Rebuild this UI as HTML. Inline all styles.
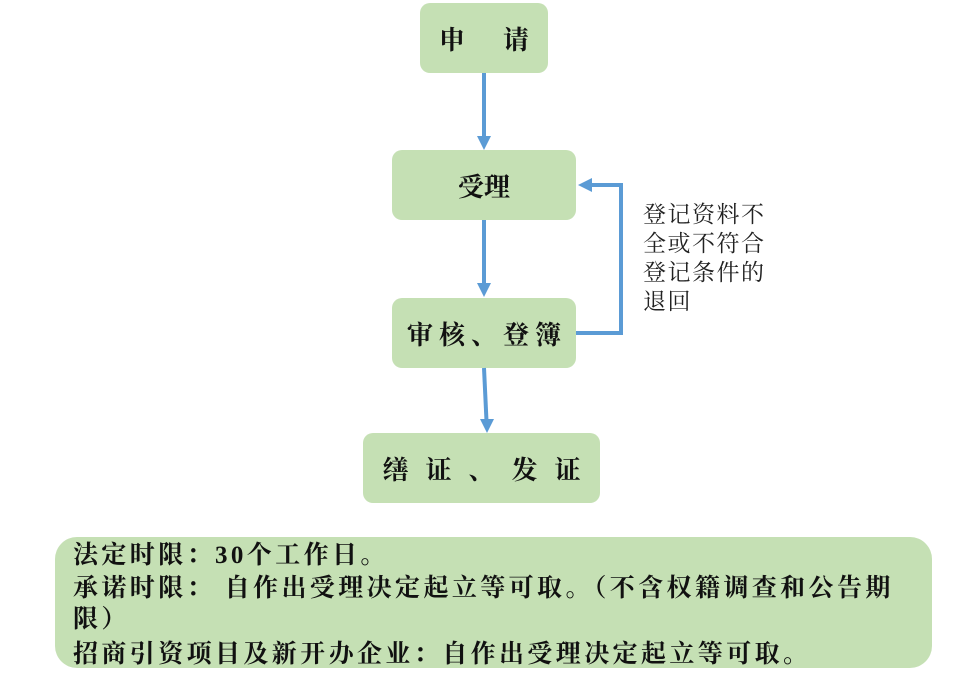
<!DOCTYPE html>
<html><head><meta charset="utf-8"><style>
body{margin:0;width:956px;height:688px;background:#fff;position:relative;overflow:hidden;font-family:"Liberation Serif","Noto Serif CJK SC",serif;}
.b{position:absolute;background:#c5e0b4;border-radius:10px;display:flex;align-items:center;justify-content:center;font-size:26px;font-weight:bold;color:#111;white-space:nowrap}
.t{position:absolute;white-space:nowrap}
</style></head><body>
<div class="b" style="left:420px;top:3px;width:128px;height:70px;letter-spacing:38px;padding-left:38px;box-sizing:border-box">申请</div>
<div class="b" style="left:392px;top:150px;width:184px;height:70px">受理</div>
<div class="b" style="left:392px;top:298px;width:184px;height:70px;letter-spacing:6px;padding-left:6px;box-sizing:border-box">审核、登簿</div>
<div class="b" style="left:363px;top:433px;width:237px;height:70px;letter-spacing:17px;padding-left:17px;box-sizing:border-box">缮证、发证</div>
<svg style="position:absolute;left:0;top:0" width="956" height="688">
<g stroke="#5b9bd5" stroke-width="4" fill="none">
<line x1="484" y1="73" x2="484" y2="138"/>
<line x1="484" y1="220" x2="484" y2="285"/>
<line x1="484" y1="368" x2="486.5" y2="421"/>
<polyline points="576,333 621,333 621,185 590,185"/>
</g>
<g fill="#5b9bd5">
<polygon points="477,136 491,136 484,150"/>
<polygon points="477,283 491,283 484,297"/>
<polygon points="480,419 494,419 487,433"/>
<polygon points="592,178 592,192 578,185"/>
</g>
</svg>
<div class="t" style="left:643px;top:200px;font-size:23px;letter-spacing:1.5px;line-height:29px;color:#222">登记资料不<br>全或不符合<br>登记条件的<br>退回</div>
<div style="position:absolute;left:55px;top:537px;width:877px;height:131px;background:#c5e0b4;border-radius:22px"></div>
<div class="t" style="left:73px;top:539px;font-size:25px;font-weight:bold;color:#111;letter-spacing:3.4px;line-height:33px">
<div style="height:33px">法定时限：30个工作日。</div>
<div style="height:31px">承诺时限： 自作出受理决定起立等可取。（不含权籍调查和公告期</div>
<div style="height:35px">限）</div>
<div>招商引资项目及新开办企业：自作出受理决定起立等可取。</div>
</div>
</body></html>
